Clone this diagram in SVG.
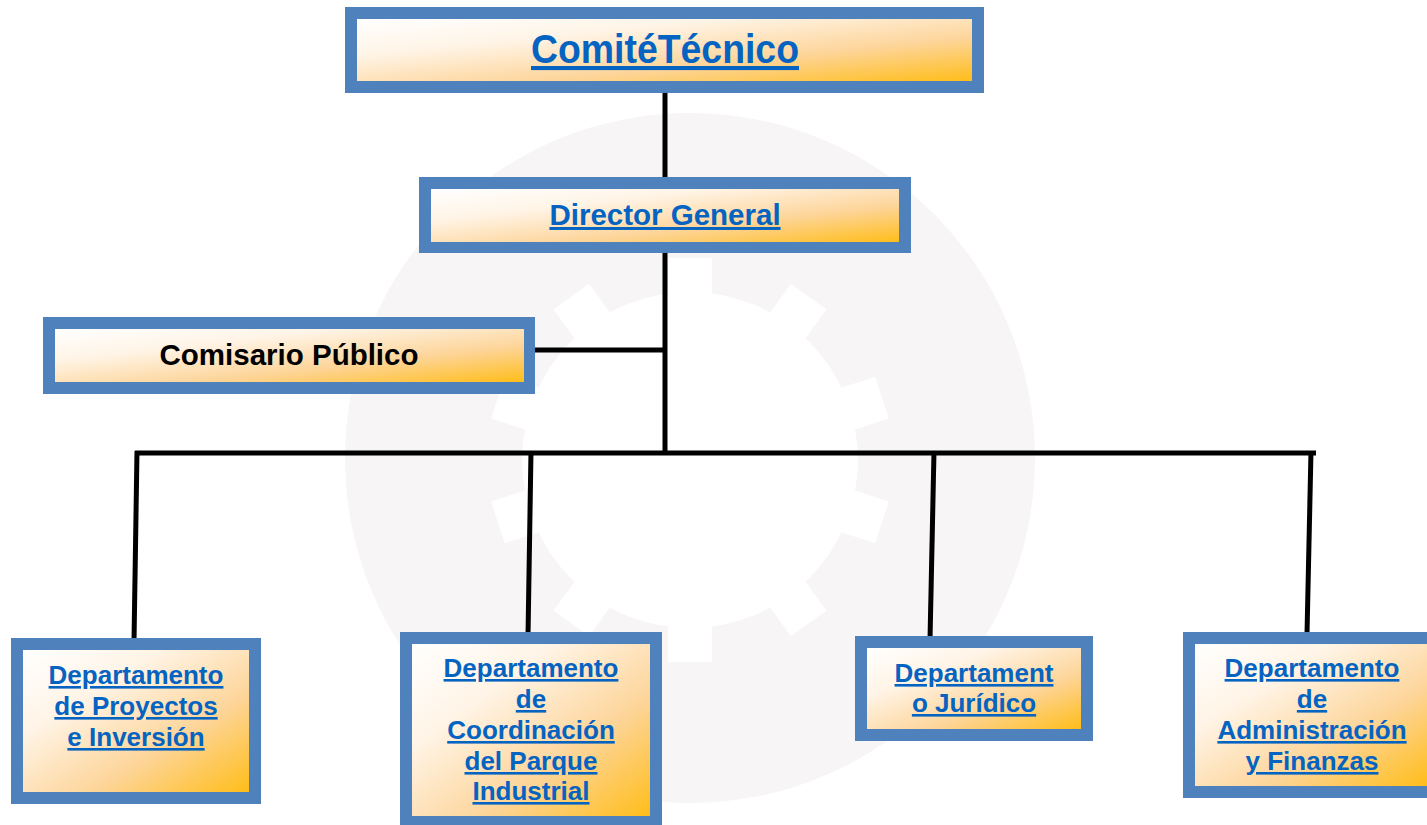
<svg xmlns="http://www.w3.org/2000/svg" width="1427" height="825" viewBox="0 0 1427 825">
  <defs>
    <linearGradient id="fillG" x1="0" y1="0" x2="1" y2="1">
      <stop offset="0" stop-color="#ffffff"/>
      <stop offset="0.3" stop-color="#fff4e6"/>
      <stop offset="0.65" stop-color="#fdd59a"/>
      <stop offset="1" stop-color="#ffbd1a"/>
    </linearGradient>
    <rect id="tooth" x="668" y="258" width="44" height="40"/>
  </defs>
  <style>
    .frame { fill: #4f81bd; }
    .inner { fill: url(#fillG); }
    .lnk { font-family: "Liberation Sans", Arial, sans-serif; font-weight: bold; fill: #0563c1; text-decoration: underline; text-anchor: middle; }
    .plain { font-family: "Liberation Sans", Arial, sans-serif; font-weight: bold; fill: #000000; text-anchor: middle; }
    .dept { font-size: 26px; }
    .conn line { stroke: #000000; stroke-width: 5; stroke-linecap: butt; }
  </style>
  <rect width="1427" height="825" fill="#ffffff"/>
  <g id="watermark">
    <circle cx="690" cy="458" r="345" fill="#f7f5f5"/>
    <g fill="#ffffff">
      <circle cx="690" cy="460" r="168"/>
      <use href="#tooth"/>
      <use href="#tooth" transform="rotate(36 690 460)"/>
      <use href="#tooth" transform="rotate(72 690 460)"/>
      <use href="#tooth" transform="rotate(108 690 460)"/>
      <use href="#tooth" transform="rotate(144 690 460)"/>
      <use href="#tooth" transform="rotate(180 690 460)"/>
      <use href="#tooth" transform="rotate(216 690 460)"/>
      <use href="#tooth" transform="rotate(252 690 460)"/>
      <use href="#tooth" transform="rotate(288 690 460)"/>
      <use href="#tooth" transform="rotate(324 690 460)"/>
    </g>
  </g>
  <g id="connectors" class="conn">
    <line x1="665" y1="90" x2="665" y2="180"/>
    <line x1="665" y1="250" x2="665" y2="455"/>
    <line x1="530" y1="350" x2="667" y2="350"/>
    <line x1="135" y1="453" x2="1316" y2="453"/>
    <line x1="137" y1="451" x2="134" y2="642"/>
    <line x1="531" y1="451" x2="528" y2="636"/>
    <line x1="934" y1="451" x2="930" y2="640"/>
    <line x1="1311" y1="451" x2="1307" y2="634"/>
  </g>
  <g id="comite">
    <rect class="frame" x="345" y="7" width="639" height="86"/>
    <rect class="inner" x="357" y="19" width="615" height="62"/>
    <text class="lnk" x="665" y="63" font-size="41" textLength="268" lengthAdjust="spacingAndGlyphs">ComitéTécnico</text>
  </g>
  <g id="director">
    <rect class="frame" x="419" y="177" width="492" height="76"/>
    <rect class="inner" x="431" y="189" width="468" height="53"/>
    <text class="lnk" x="665" y="225" font-size="29.5">Director General</text>
  </g>
  <g id="comisario">
    <rect class="frame" x="43" y="317" width="492" height="77"/>
    <rect class="inner" x="55" y="329" width="469" height="53"/>
    <text class="plain" x="289" y="365" font-size="29.5">Comisario Público</text>
  </g>
  <g id="dept-proyectos">
    <rect class="frame" x="11" y="638" width="250" height="166"/>
    <rect class="inner" x="23" y="650" width="226" height="142"/>
    <text class="lnk dept" x="136" y="684">Departamento</text>
    <text class="lnk dept" x="136" y="715">de Proyectos</text>
    <text class="lnk dept" x="136" y="746">e Inversión</text>
  </g>
  <g id="dept-coordinacion">
    <rect class="frame" x="400" y="632" width="262" height="200"/>
    <rect class="inner" x="412" y="644" width="238" height="172"/>
    <text class="lnk dept" x="531" y="677">Departamento</text>
    <text class="lnk dept" x="531" y="708">de</text>
    <text class="lnk dept" x="531" y="739">Coordinación</text>
    <text class="lnk dept" x="531" y="770">del Parque</text>
    <text class="lnk dept" x="531" y="800">Industrial</text>
  </g>
  <g id="dept-juridico">
    <rect class="frame" x="855" y="636" width="238" height="105"/>
    <rect class="inner" x="867" y="648" width="214" height="81"/>
    <text class="lnk dept" x="974" y="682">Departament</text>
    <text class="lnk dept" x="974" y="712">o Jurídico</text>
  </g>
  <g id="dept-administracion">
    <rect class="frame" x="1183" y="632" width="256" height="166"/>
    <rect class="inner" x="1195" y="644" width="232" height="142"/>
    <text class="lnk dept" x="1312" y="677">Departamento</text>
    <text class="lnk dept" x="1312" y="708">de</text>
    <text class="lnk dept" x="1312" y="739">Administración</text>
    <text class="lnk dept" x="1312" y="770">y Finanzas</text>
  </g>
</svg>
